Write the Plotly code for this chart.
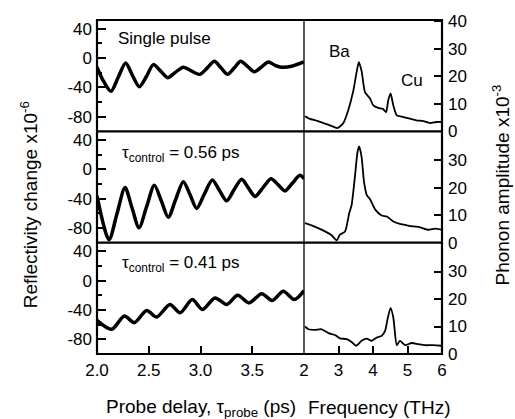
import plotly.graph_objects as go
from plotly.subplots import make_subplots

# ---------------- data ----------------
delay_single = [2.00, 2.061, 2.135, 2.206, 2.277, 2.341, 2.409, 2.480, 2.544, 2.615,
                2.683, 2.760, 2.834, 2.915, 2.995, 3.066, 3.134, 3.198, 3.262, 3.327,
                3.388, 3.456, 3.520, 3.591, 3.655, 3.720, 3.784, 3.881, 4.00]
refl_single = [-12.4, -31.1, -45.3, -25.8, -6.7, -23.1, -39.1, -24.4, -8.9, -17.8,
               -26.7, -19.1, -12.4, -17.8, -22.2, -13.3, -4.4, -13.3, -22.2, -13.3,
               -4.4, -11.6, -18.7, -12.0, -5.3, -9.8, -12.4, -11.1, -5.3]

delay_056 = [2.00, 2.116, 2.193, 2.271, 2.338, 2.406, 2.480, 2.554, 2.622, 2.689,
             2.760, 2.834, 2.899, 2.963, 3.037, 3.114, 3.182, 3.253, 3.324, 3.398,
             3.462, 3.527, 3.604, 3.681, 3.749, 3.816, 3.887, 3.961, 4.00]
refl_056 = [-36.0, -95.9, -60.4, -24.8, -52.3, -79.7, -50.5, -21.6, -43.2, -65.3,
            -41.0, -16.7, -34.7, -53.2, -33.8, -14.4, -28.4, -42.8, -27.9, -13.5,
            -25.2, -36.9, -24.8, -12.6, -20.7, -29.3, -18.9, -8.1, -12.6]

delay_041 = [2.00, 2.142, 2.264, 2.361, 2.480, 2.576, 2.705, 2.802, 2.921, 3.018,
             3.140, 3.253, 3.359, 3.469, 3.591, 3.694, 3.800, 3.907, 4.00]
refl_041 = [-54.1, -66.2, -48.2, -57.2, -40.5, -49.5, -32.4, -43.7, -25.7, -39.2,
            -23.4, -32.4, -19.8, -30.2, -17.6, -27.0, -14.4, -25.7, -13.5]

freq_single = [2.03, 2.17, 2.36, 2.56, 2.75, 2.97, 3.14, 3.28, 3.43, 3.53, 3.59, 3.67,
               3.77, 3.91, 4.01, 4.15, 4.28, 4.38, 4.44, 4.51, 4.59, 4.69, 4.88, 5.07,
               5.26, 5.46, 5.65, 5.84, 5.99]
amp_single = [5.5, 4.5, 3.9, 3.0, 2.2, 1.2, 3.0, 7.6, 14.8, 21.9, 25.2, 21.9,
              14.2, 12.0, 9.4, 8.5, 8.2, 7.0, 11.2, 13.8, 9.4, 5.8, 5.2, 4.6,
              4.0, 3.7, 3.0, 3.4, 3.4]

freq_056 = [2.03, 2.22, 2.41, 2.61, 2.80, 2.95, 3.04, 3.19, 3.31, 3.38, 3.48, 3.55,
            3.60, 3.67, 3.74, 3.82, 3.91, 4.06, 4.25, 4.40, 4.59, 4.78, 4.98, 5.17,
            5.36, 5.60, 5.80, 5.99]
amp_056 = [7.1, 6.3, 5.3, 4.1, 2.7, 0.8, 2.9, 4.1, 10.7, 13.7, 24.5, 32.9,
           35.0, 31.1, 22.1, 17.3, 15.9, 12.1, 9.9, 9.5, 7.7, 6.8, 6.3, 5.9,
           5.6, 4.7, 5.1, 4.7]

freq_041 = [2.03, 2.13, 2.32, 2.51, 2.71, 2.90, 3.04, 3.24, 3.38, 3.51, 3.67, 3.82,
            3.96, 4.11, 4.25, 4.35, 4.42, 4.51, 4.59, 4.69, 4.78, 4.93, 5.12, 5.31,
            5.50, 5.74, 5.99]
amp_041 = [10.0, 9.0, 8.8, 9.0, 7.6, 6.9, 5.7, 5.4, 4.4, 3.0, 4.8, 5.6,
           4.8, 6.0, 6.6, 8.4, 12.6, 16.8, 13.2, 3.2, 4.8, 3.2, 4.0, 3.6,
           3.2, 3.2, 3.0]

delay_ticks = [2.0, 2.5, 3.0, 3.5]
delay_ticktext = ["2.0", "2.5", "3.0", "3.5"]
freq_ticks = [2, 3, 4, 5, 6]
freq_ticktext = ["2", "3", "4", "5", "6"]
refl_ticks = [-80, -40, 0, 40]
refl_ticktext = ["-80", "-40", "0", "40"]
refl_minor = [-60, -20, 20]
amp_ticks_top = [0, 10, 20, 30, 40]
amp_ticks = [0, 10, 20, 30]

panel_labels = ["Single pulse",
                "τ<sub>control</sub> = 0.56 ps",
                "τ<sub>control</sub> = 0.41 ps"]

# ---------------- figure ----------------
W, H = 515, 419
L, R, T, B = 97, 73, 17, 65
PW, PH = W - L - R, H - T - B

def px(x):
    return (x - L) / PW

def py(y):
    return (H - B - y) / PH

FONT = "Liberation Sans, Arial, sans-serif"

fig = make_subplots(rows=3, cols=2, column_widths=[0.6, 0.4],
                    horizontal_spacing=0, vertical_spacing=0)

left_series = [(delay_single, refl_single), (delay_056, refl_056), (delay_041, refl_041)]
right_series = [(freq_single, amp_single), (freq_056, amp_056), (freq_041, amp_041)]

for i, (xs, ys) in enumerate(left_series):
    fig.add_trace(go.Scatter(x=xs, y=ys, mode="lines",
                             line=dict(color="black", width=3.5, shape="spline", smoothing=0.8),
                             showlegend=False, hoverinfo="skip"), row=i + 1, col=1)
for i, (xs, ys) in enumerate(right_series):
    fig.add_trace(go.Scatter(x=xs, y=ys, mode="lines",
                             line=dict(color="black", width=1.8, shape="spline", smoothing=0.6),
                             showlegend=False, hoverinfo="skip"), row=i + 1, col=2)

tickfont = dict(family=FONT, size=17, color="black")

for r in range(1, 4):
    bottom = (r == 3)
    fig.update_xaxes(range=[2, 4], showgrid=False, zeroline=False, showline=False,
                     tickvals=delay_ticks if bottom else [],
                     ticktext=delay_ticktext if bottom else [],
                     ticks="inside" if bottom else "", ticklen=8, tickwidth=2,
                     tickcolor="black", showticklabels=bottom, tickfont=tickfont,
                     ticklabelstandoff=4, row=r, col=1)
    fig.update_xaxes(range=[2, 6], showgrid=False, zeroline=False, showline=False,
                     tickvals=freq_ticks if bottom else [],
                     ticktext=freq_ticktext if bottom else [],
                     ticks="inside" if bottom else "", ticklen=8, tickwidth=2,
                     tickcolor="black", showticklabels=bottom, tickfont=tickfont,
                     ticklabelstandoff=4, row=r, col=2)
    fig.update_yaxes(range=[-100, 52], showgrid=False, zeroline=False, showline=False,
                     tickvals=refl_ticks, ticktext=refl_ticktext,
                     ticks="inside", ticklen=9, tickwidth=2,
                     tickcolor="black", tickfont=tickfont, ticklabelstandoff=4,
                     minor=dict(tickvals=refl_minor, ticks="inside", ticklen=5,
                                tickwidth=2, tickcolor="black", showgrid=False),
                     row=r, col=1)
    fig.update_yaxes(range=[0, 40.5], showgrid=False, zeroline=False, showline=False,
                     side="right",
                     tickvals=amp_ticks_top if r == 1 else amp_ticks,
                     ticktext=[str(v) for v in (amp_ticks_top if r == 1 else amp_ticks)],
                     ticks="inside", ticklen=8, tickwidth=2, tickcolor="black",
                     tickfont=tickfont, ticklabelstandoff=5, row=r, col=2)

shapes = [
    dict(type="rect", xref="paper", yref="paper", x0=0, x1=1, y0=0, y1=1,
         line=dict(color="black", width=2.2)),
    dict(type="line", xref="paper", yref="paper", x0=0, x1=1, y0=1 / 3, y1=1 / 3,
         line=dict(color="black", width=2.2)),
    dict(type="line", xref="paper", yref="paper", x0=0, x1=1, y0=2 / 3, y1=2 / 3,
         line=dict(color="black", width=2.2)),
    dict(type="line", xref="paper", yref="paper", x0=0.6, x1=0.6, y0=0, y1=1,
         line=dict(color="black", width=1.3)),
]

afont = dict(family=FONT, size=17, color="black")
tfont = dict(family=FONT, size=19, color="black")
label_pos = [(115.5, 35.5), (119.5, 152.0), (119.5, 263.0)]
annotations = []
for text, (x, y) in zip(panel_labels, label_pos):
    annotations.append(dict(text=text, x=px(x), y=py(y), xref="paper", yref="paper",
                            xanchor="left", yanchor="middle", showarrow=False, font=afont))
annotations += [
    dict(text="Ba", x=px(339.5), y=py(49), xref="paper", yref="paper",
         xanchor="center", yanchor="middle", showarrow=False, font=afont),
    dict(text="Cu", x=px(412), y=py(78), xref="paper", yref="paper",
         xanchor="center", yanchor="middle", showarrow=False, font=afont),
    dict(text="Probe delay, τ<sub>probe</sub> (ps)", x=px(201), y=py(408),
         xref="paper", yref="paper", xanchor="center", yanchor="middle",
         showarrow=False, font=tfont),
    dict(text="Frequency (THz)", x=px(379), y=py(408),
         xref="paper", yref="paper", xanchor="center", yanchor="middle",
         showarrow=False, font=tfont),
    dict(text="Reflectivity change x10<sup>-6</sup>", x=px(29), y=py(204),
         xref="paper", yref="paper", xanchor="center", yanchor="middle",
         textangle=-90, showarrow=False, font=tfont),
    dict(text="Phonon amplitude x10<sup>-3</sup>", x=px(501), y=py(184),
         xref="paper", yref="paper", xanchor="center", yanchor="middle",
         textangle=-90, showarrow=False, font=tfont),
]

fig.update_layout(width=W, height=H,
                  margin=dict(l=L, r=R, t=T, b=B, pad=0),
                  paper_bgcolor="white", plot_bgcolor="white",
                  font=dict(family=FONT, color="black"),
                  shapes=shapes, annotations=annotations, showlegend=False)

fig.write_html("out.html",
               config={"displayModeBar": False, "staticPlot": True},
               post_script="document.body.style.margin='0';document.body.style.overflow='hidden';")
